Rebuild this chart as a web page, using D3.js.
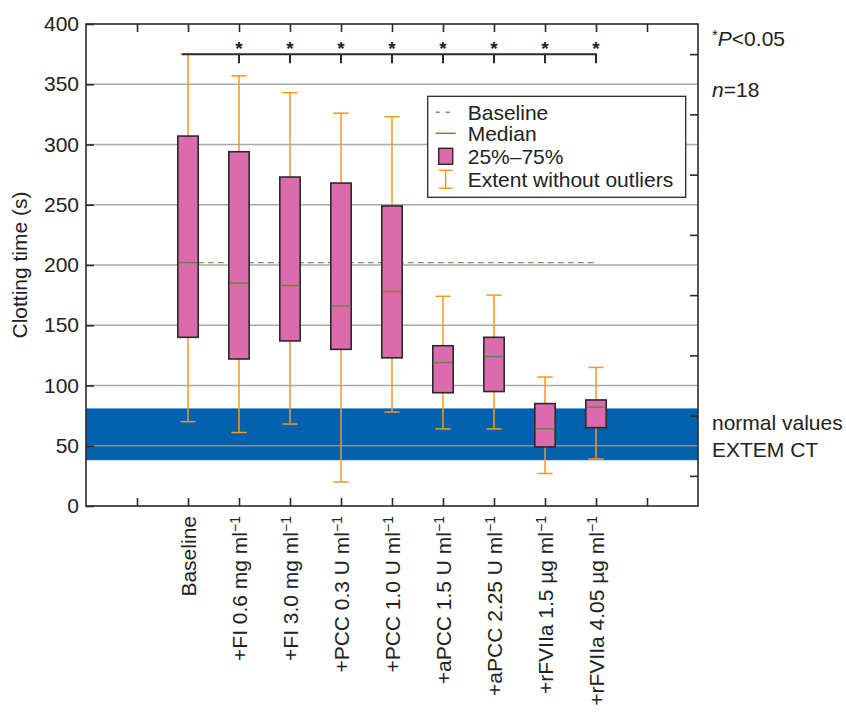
<!DOCTYPE html>
<html>
<head>
<meta charset="utf-8">
<script src="https://cdn.jsdelivr.net/npm/d3@7"></script>
<style>
  body { margin: 0; background: #fff; }
  text { font-family: "Liberation Sans", Arial, sans-serif; fill: #222; }
</style>
</head>
<body>
<script>
// data
const groups = ["Baseline", "+FI 0.6 mg ml", "+FI 3.0 mg ml", "+PCC 0.3 U ml", "+PCC 1.0 U ml",
    "+aPCC 1.5 U ml", "+aPCC 2.25 U ml", "+rFVIIa 1.5 \u00b5g ml", "+rFVIIa 4.05 \u00b5g ml"];
const unitSup = ["", "\u22121", "\u22121", "\u22121", "\u22121", "\u22121", "\u22121", "\u22121", "\u22121"];
const whiskerHigh = [375, 357, 343, 326, 323, 174, 175, 107, 115];
const q3 = [307, 294, 273, 268, 249, 133, 140, 85, 88];
const medians = [202, 185, 183, 166, 178, 119, 124, 64, 82];
const q1 = [140, 122, 137, 130, 123, 94, 95, 49, 65];
const whiskerLow = [70, 61, 68, 20, 78, 64, 64, 27, 39];
const significant = [false, true, true, true, true, true, true, true, true];
const normalRange = [38, 81];
const bracketLevel = 375;
const yTicks = [0, 50, 100, 150, 200, 250, 300, 350, 400];
const yMinorTicks = [25, 75, 125, 175, 225, 275, 325, 375];
const xTicks = [1, 2, 3, 4, 5, 6, 7, 8, 9, 10, 11];

const margin = { top: 24, right: 148, bottom: 206, left: 86 };
const width = 846 - margin.left - margin.right;
const height = 712 - margin.top - margin.bottom;

const pink = "#dc6bad", orange = "#f7961e", green = "#5d8c3c", blue = "#0062ae", dark = "#2a2a2a";

const x = d3.scaleLinear().domain([0, 12]).range([0, width]);
const y = d3.scaleLinear().domain([0, 400]).range([height, 0]);
const pos = i => x(i + 2);
const boxW = x(0.4) - x(0);
const capW = x(0.3) - x(0);

const svg = d3.select("body").append("svg")
    .attr("width", 846)
    .attr("height", 712)
  .append("g")
    .attr("transform", `translate(${margin.left}, ${margin.top})`);

// normal range band
svg.append("rect")
    .attr("x", 0).attr("width", width)
    .attr("y", y(normalRange[1]))
    .attr("height", y(normalRange[0]) - y(normalRange[1]))
    .attr("fill", blue);

// grid
svg.append("g").selectAll("line")
    .data(yTicks.filter(d => d > 0 && d < 400))
    .join("line")
    .attr("x1", 0).attr("x2", width)
    .attr("y1", d => y(d)).attr("y2", d => y(d))
    .attr("stroke", "#9a9a9a").attr("stroke-opacity", 0.85).attr("stroke-width", 1.3);

// baseline median reference
svg.append("line")
    .attr("x1", pos(0) - boxW / 2).attr("x2", pos(8))
    .attr("y1", y(medians[0])).attr("y2", y(medians[0]))
    .attr("stroke", "#6a9f55").attr("stroke-width", 1.4)
    .attr("stroke-dasharray", "6,4");

// whiskers
const wg = svg.append("g").attr("stroke", orange).attr("stroke-width", 1.5);
groups.forEach((g, i) => {
    wg.append("line").attr("x1", pos(i)).attr("x2", pos(i))
        .attr("y1", y(whiskerLow[i])).attr("y2", y(whiskerHigh[i]));
    [whiskerLow[i], whiskerHigh[i]].forEach(v => {
        wg.append("line").attr("x1", pos(i) - capW / 2).attr("x2", pos(i) + capW / 2)
            .attr("y1", y(v)).attr("y2", y(v));
    });
});

// boxes
svg.append("g").selectAll("rect")
    .data(groups)
    .join("rect")
    .attr("x", (d, i) => pos(i) - boxW / 2)
    .attr("width", boxW)
    .attr("y", (d, i) => y(q3[i]))
    .attr("height", (d, i) => y(q1[i]) - y(q3[i]))
    .attr("fill", pink).attr("stroke", dark).attr("stroke-width", 1.6);

svg.append("g").selectAll("line")
    .data(groups)
    .join("line")
    .attr("x1", (d, i) => pos(i) - boxW / 2 + 1).attr("x2", (d, i) => pos(i) + boxW / 2 - 1)
    .attr("y1", (d, i) => y(medians[i])).attr("y2", (d, i) => y(medians[i]))
    .attr("stroke", green).attr("stroke-width", 1.5);

// significance bracket
const lastSig = significant.lastIndexOf(true);
svg.append("line")
    .attr("x1", pos(0) - 6).attr("x2", pos(lastSig) + 1)
    .attr("y1", y(bracketLevel)).attr("y2", y(bracketLevel))
    .attr("stroke", dark).attr("stroke-width", 2);
groups.forEach((g, i) => {
    if (!significant[i]) return;
    svg.append("line")
        .attr("x1", pos(i)).attr("x2", pos(i))
        .attr("y1", y(bracketLevel)).attr("y2", y(bracketLevel) + 9)
        .attr("stroke", dark).attr("stroke-width", 2);
    svg.append("text")
        .attr("x", pos(i)).attr("y", y(bracketLevel) + 1)
        .attr("text-anchor", "middle")
        .style("font-size", "19px")
        .style("font-weight", "bold")
        .text("*");
});

// frame and axes
svg.append("rect")
    .attr("width", width).attr("height", height)
    .attr("fill", "none").attr("stroke", dark).attr("stroke-width", 1.6);

const styleAxis = g => {
    g.select(".domain").remove();
    g.selectAll(".tick line").attr("stroke", dark).attr("stroke-width", 1.6);
};

svg.append("g")
    .call(d3.axisLeft(y).tickValues(yTicks).tickSize(-8).tickPadding(7))
    .call(styleAxis)
    .call(g => g.selectAll("text").style("font-size", "21px").attr("fill", "#222"));

svg.append("g")
    .attr("transform", `translate(${width}, 0)`)
    .call(d3.axisRight(y).tickValues(yMinorTicks).tickSize(-8).tickFormat(""))
    .call(styleAxis);

svg.append("g")
    .call(d3.axisTop(x).tickValues(xTicks).tickSize(-8).tickFormat(""))
    .call(styleAxis);

svg.append("g")
    .attr("transform", `translate(0, ${height})`)
    .call(d3.axisBottom(x).tickValues(xTicks).tickSize(-8).tickFormat(""))
    .call(styleAxis);

// category labels
const labels = svg.append("g").selectAll("text")
    .data(groups)
    .join("text")
    .attr("transform", (d, i) => `translate(${pos(i)}, ${height + 10}) rotate(-90)`)
    .attr("text-anchor", "end")
    .attr("dy", "0.36em")
    .style("font-size", "21px");
labels.append("tspan").text(d => d);
labels.append("tspan")
    .attr("dy", "-0.45em")
    .style("font-size", "14px")
    .text((d, i) => unitSup[i]);

// y axis title
svg.append("text")
    .attr("transform", `translate(-59, ${height / 2}) rotate(-90)`)
    .attr("text-anchor", "middle")
    .style("font-size", "21px")
    .text("Clotting time (s)");

// right annotations
const ann = svg.append("g").attr("transform", `translate(${width + 14}, 0)`);
const p = ann.append("text").attr("y", 22).style("font-size", "21px");
p.append("tspan").attr("dy", "-6").style("font-size", "15px").text("*");
p.append("tspan").attr("dy", "6").style("font-style", "italic").text("P");
p.append("tspan").text("<0.05");
const n = ann.append("text").attr("y", 73).style("font-size", "21px");
n.append("tspan").style("font-style", "italic").text("n");
n.append("tspan").text("=18");
ann.append("text").attr("y", y(63)).style("font-size", "21px").text("normal values");
ann.append("text").attr("y", y(41)).style("font-size", "21px").text("EXTEM CT");

// legend
const legend = svg.append("g").attr("transform", `translate(${x(6.7)}, ${y(340)})`);
legend.append("rect")
    .attr("width", 258).attr("height", 101)
    .attr("fill", "#fff").attr("stroke", dark).attr("stroke-width", 1.3);
const rowY = [16, 37, 60, 83];
const legendText = ["Baseline", "Median", "25%\u201375%", "Extent without outliers"];
legend.append("line").attr("x1", 8).attr("x2", 28).attr("y1", rowY[0]).attr("y2", rowY[0])
    .attr("stroke", "#6a9f55").attr("stroke-width", 1.4).attr("stroke-dasharray", "4,6");
legend.append("line").attr("x1", 8).attr("x2", 28).attr("y1", rowY[1]).attr("y2", rowY[1])
    .attr("stroke", green).attr("stroke-width", 1.4);
legend.append("rect").attr("x", 11).attr("y", rowY[2] - 8).attr("width", 14).attr("height", 16)
    .attr("fill", pink).attr("stroke", dark).attr("stroke-width", 1.4);
const ext = legend.append("g").attr("stroke", orange).attr("stroke-width", 1.4);
ext.append("line").attr("x1", 18).attr("x2", 18).attr("y1", rowY[3] - 9).attr("y2", rowY[3] + 9);
ext.append("line").attr("x1", 11).attr("x2", 25).attr("y1", rowY[3] - 9).attr("y2", rowY[3] - 9);
ext.append("line").attr("x1", 11).attr("x2", 25).attr("y1", rowY[3] + 9).attr("y2", rowY[3] + 9);
legend.selectAll("text.lab")
    .data(legendText)
    .join("text")
    .attr("x", 40)
    .attr("y", (d, i) => rowY[i])
    .attr("dy", "0.36em")
    .style("font-size", "21px")
    .text(d => d);
</script>
</body>
</html>
